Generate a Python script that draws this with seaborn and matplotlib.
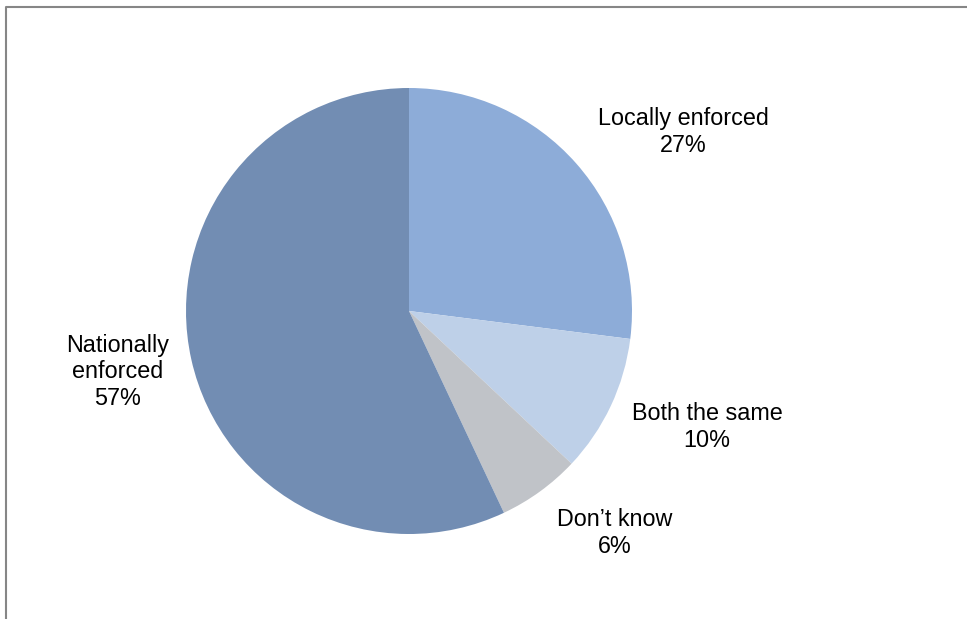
import matplotlib
matplotlib.use("Agg")
import matplotlib.pyplot as plt
import seaborn as sns
from matplotlib.lines import Line2D

categories = ["Locally enforced", "Both the same", "Don\u2019t know", "Nationally\nenforced"]
values = [27, 10, 6, 57]
colors = ["#8DACD8", "#BED0E8", "#C0C3C8", "#728DB3"]

sns.set_theme(style="white")
plt.rcParams['font.family'] = ['Liberation Sans', 'DejaVu Sans']

W, H, DPI = 967, 619, 100
fig = plt.figure(figsize=(W / DPI, H / DPI), dpi=DPI)
fig.patch.set_facecolor("white")

cx, cy, R = 409, 311, 223
ax = fig.add_axes([0, 0, 1, 1])

ax.pie(values, colors=colors, startangle=90, counterclock=False, radius=1,
       center=(0, 0), wedgeprops=dict(linewidth=0))

ax.set_aspect("auto")
ax.set_xlim(-cx / R, (W - cx) / R)
ax.set_ylim(-(H - cy) / R, cy / R)
ax.axis("off")

# label positions (pixel centers)
label_px = [(683, 132), (707, 427), (615, 533), (118, 372)]
for (px, py), cat, v in zip(label_px, categories, values):
    ax.text((px - cx) / R, (cy - py) / R, f"{cat}\n{v}%", ha="center", va="center",
            fontsize=16.8, color="black", linespacing=1.2)

# border (top and left visible)
lx = 6 / W
ty = 1 - 7 / H
fig.add_artist(Line2D([lx, lx, 1], [0, ty, ty], transform=fig.transFigure,
                      color="#868686", linewidth=1.5))

fig.savefig("out.png", dpi=DPI, facecolor="white")
